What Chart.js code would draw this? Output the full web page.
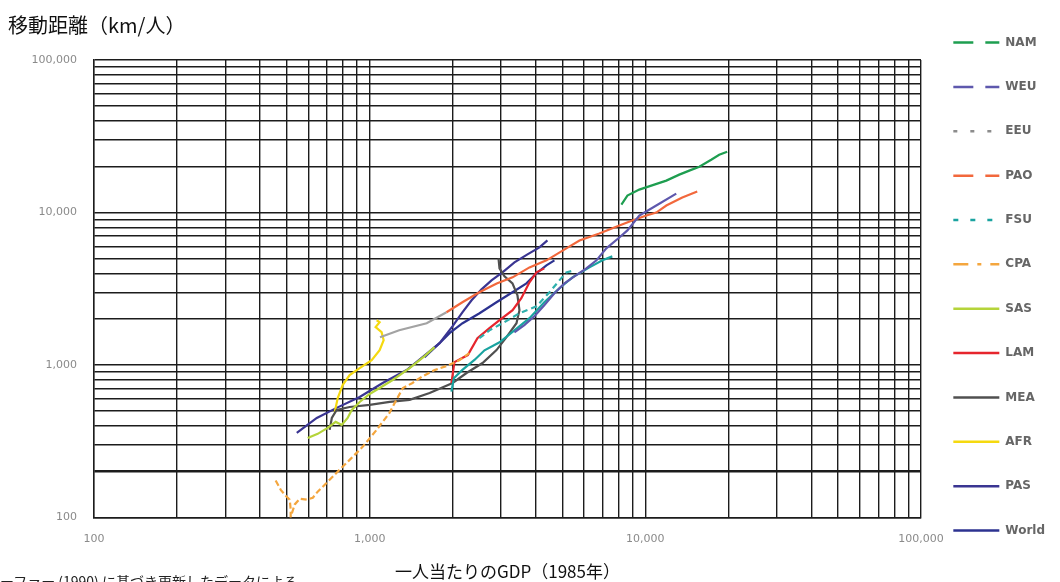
<!DOCTYPE html>
<html><head><meta charset="utf-8">
<script src="https://cdn.jsdelivr.net/npm/chart.js@4/dist/chart.umd.min.js"></script>
<style>
html,body{margin:0;padding:0;background:#fff;overflow:hidden;width:1060px;height:582px;}
#wrap{position:relative;width:1060px;height:582px;overflow:hidden;}
#note{position:absolute;left:-28px;top:573px;font-family:'Noto Sans CJK JP';font-size:14px;color:#222;white-space:nowrap;line-height:16px;}
</style></head><body>
<div id="wrap"><canvas id="c" width="1060" height="582"></canvas><div id="note">シェーファー (1990) に基づき更新したデータによる</div></div>
<script>
// ---- data (GDP per capita, 1985 US$ ; travel distance km/person) ----
const regions = ['NAM','WEU','EEU','PAO','FSU','CPA','SAS','LAM','MEA','AFR','PAS','World'];
const gridValues = [100,200,300,400,500,600,700,800,900,1000,2000,3000,4000,5000,6000,7000,8000,9000,10000,20000,30000,40000,50000,60000,70000,80000,90000,100000];
const labelValues = [100,1000,10000,100000];

const NAM_gdp  = [8190, 8610, 9510, 10780, 11920, 13280, 14440, 15700, 17340, 18540, 19820];
const NAM_dist = [11280, 12920, 14140, 15240, 16190, 17720, 18820, 19980, 22200, 23940, 25050];
const WEU_gdp  = [3350, 3640, 3960, 4300, 4680, 5090, 5530, 6110, 6650, 7220, 8050, 8610, 9510, 10960, 12950];
const WEU_dist = [1640, 1830, 2090, 2470, 2960, 3430, 3820, 4300, 4860, 5820, 6860, 7630, 9560, 11110, 13310];
const EEU_gdp  = [2500, 2720, 3080, 3500, 4030, 4490, 4880, 5170, 5530];
const EEU_dist = [1500, 1690, 1910, 2190, 2430, 3000, 3590, 4050, 4180];
const PAO_gdp  = [1090, 1280, 1610, 1900, 2170, 2500, 2890, 3300, 3800, 4380, 5170, 5770, 6810, 8050, 8970, 10090, 10960, 11920, 13620, 15430];
const PAO_dist = [1520, 1690, 1880, 2220, 2580, 3000, 3430, 3760, 4370, 4860, 5820, 6560, 7290, 8220, 8870, 9560, 10000, 11110, 12530, 13720];
const FSU_gdp  = [1980, 2020, 2170, 2400, 2610, 2960, 3350, 3800, 4300, 4880, 5440, 6270, 6990, 7590];
const FSU_dist = [670, 820, 930, 1080, 1250, 1410, 1690, 2030, 2580, 3190, 3760, 4370, 4860, 5160];
const CPA_gdp  = [456, 476, 496, 513, 517, 517, 535, 558, 591, 622, 648, 687, 759, 846, 943, 1060, 1180, 1250, 1320, 1430, 1560, 1720, 1900, 2120, 2300];
const CPA_dist = [175, 152, 139, 131, 113, 101, 122, 133, 131, 135, 148, 164, 197, 239, 291, 376, 486, 591, 707, 763, 847, 927, 985, 1078, 1198];
const SAS_gdp  = [596, 648, 704, 753, 792, 832, 861, 920, 1000, 1087, 1212, 1396, 1582, 1720];
const SAS_dist = [333, 354, 387, 424, 405, 450, 508, 573, 646, 707, 798, 956, 1145, 1311];
const LAM_gdp  = [1980, 2030, 2270, 2460, 2720, 2960, 3300, 3550, 3800, 4030, 4300];
const LAM_dist = [763, 1046, 1163, 1502, 1745, 1968, 2288, 2741, 3487, 4054, 4305];
const MEA_gdp  = [716, 729, 759, 846, 1000, 1182, 1396, 1650, 2000, 2246, 2567, 2885, 3136, 3409, 3495, 3437, 3297, 3084, 2958, 2934];
const MEA_dist = [376, 450, 508, 531, 548, 573, 591, 656, 763, 887, 1031, 1253, 1524, 1881, 2288, 2867, 3434, 3815, 4305, 5004];
const AFR_gdp  = [747, 766, 798, 846, 920, 1017, 1087, 1124, 1105, 1051, 1087, 1060];
const AFR_dist = [493, 608, 740, 860, 956, 1078, 1253, 1457, 1643, 1772, 1910, 1968];
const PAS_gdp  = [544, 643, 759, 920, 1115, 1362, 1556, 1793, 2000, 2173, 2343, 2546, 2767, 3033, 3352, 3737, 4130, 4415];
const PAS_dist = [359, 450, 524, 618, 763, 927, 1128, 1392, 1798, 2221, 2660, 3138, 3594, 4054, 4712, 5316, 5904, 6561];
const World_gdp  = [1582, 1793, 1949, 2173, 2504, 2885, 3297, 3705, 4028, 4378, 4680];
const World_dist = [1128, 1392, 1619, 1881, 2188, 2581, 3000, 3434, 3994, 4504, 4857];

const yTitle = '移動距離（km/人）';
const xTitle = '一人当たりのGDP（1985年）';

// ---- styles ----
const lineColor = {NAM:'#1e9e50', WEU:'#5e58ad', EEU:'#2fb0ad', PAO:'#f2683c', FSU:'#1aa3a0', CPA:'#f4a63e', SAS:'#b5d43a', LAM:'#e6252d', MEA:'#505050', AFR:'#f5d90f', PAS:'#3a3592', World:'#2c3290'};
const legendColor = Object.assign({}, lineColor, {EEU:'#8c8c8c'});
const legendDash = {NAM:[20,12], WEU:[20,12], EEU:[4,13], PAO:[20,12], FSU:[5,12], CPA:[15,9,4,9], SAS:[], LAM:[], MEA:[], AFR:[], PAS:[], World:[]};
const plotDash = {EEU:[6,4], CPA:[6,3]};

const seriesData = {
  NAM:[NAM_gdp,NAM_dist], WEU:[WEU_gdp,WEU_dist], EEU:[EEU_gdp,EEU_dist], PAO:[PAO_gdp,PAO_dist],
  FSU:[FSU_gdp,FSU_dist], CPA:[CPA_gdp,CPA_dist], SAS:[SAS_gdp,SAS_dist], LAM:[LAM_gdp,LAM_dist],
  MEA:[MEA_gdp,MEA_dist], AFR:[AFR_gdp,AFR_dist], PAS:[PAS_gdp,PAS_dist], World:[World_gdp,World_dist]
};

const datasets = regions.map(r => {
  const [g, d] = seriesData[r];
  const ds = {
    label: r,
    data: g.map((v, i) => ({x: v, y: d[i]})),
    borderColor: lineColor[r],
    borderWidth: 2.2,
    borderDash: plotDash[r] || [],
    pointRadius: 0,
    fill: false,
    tension: 0,
    showLine: true
  };
  if (r === 'PAO') {
    ds.segment = { borderColor: c => c.p1DataIndex <= 3 ? '#a3a3a3' : undefined };
  }
  return ds;
});

const tickFont = {family: 'DejaVu Sans', size: 11};
const gridColor = '#1c1c1c';

new Chart(document.getElementById('c'), {
  type: 'scatter',
  data: { datasets },
  options: {
    responsive: false,
    animation: false,
    layout: { padding: { left: 8, right: 5, top: 0, bottom: 0 } },
    plugins: {
      tooltip: { enabled: false },
      title: {
        display: true, text: yTitle, align: 'start',
        font: { family: 'Noto Sans CJK JP', size: 20, weight: 'normal' },
        color: '#111', padding: { top: 13, bottom: 23 }
      },
      legend: {
        position: 'right', align: 'start',
        title: { display: true, text: '', font: { size: 1 }, padding: { top: 3, bottom: 0 } },
        labels: {
          usePointStyle: true, pointStyleWidth: 46, padding: 32.36,
          font: { family: 'DejaVu Sans', size: 12, weight: 'bold' }, color: '#1a1a1a',
          generateLabels: chart => chart.data.datasets.map((ds, i) => ({
            text: ds.label, strokeStyle: legendColor[ds.label], fillStyle: legendColor[ds.label],
            lineWidth: 2.5, lineDash: legendDash[ds.label], pointStyle: 'line', datasetIndex: i, hidden: false
          }))
        }
      }
    },
    scales: {
      x: {
        type: 'logarithmic', min: 100, max: 100000,
        afterBuildTicks: s => { s.ticks = gridValues.map(v => ({ value: v })); },
        ticks: { autoSkip: false, maxRotation: 0, padding: 15.4, font: tickFont, color: '#8a8a8a',
          callback: v => labelValues.includes(v) ? v.toLocaleString('en-US') : '' },
        grid: { color: gridColor, lineWidth: 1.4, drawTicks: false },
        border: { color: gridColor, width: 1.4 },
        title: { display: true, text: xTitle, font: { family: 'Noto Sans CJK JP', size: 17 }, color: '#111', padding: { top: 0, bottom: 0 } }
      },
      y: {
        type: 'logarithmic', min: 100, max: 100000,
        afterBuildTicks: s => { s.ticks = gridValues.map(v => ({ value: v })); },
        afterFit: s => { s.width = 86; },
        ticks: { autoSkip: false, padding: 17, font: tickFont, color: '#8a8a8a',
          callback: v => labelValues.includes(v) ? v.toLocaleString('en-US') : '' },
        grid: { color: gridColor, lineWidth: c => (c.tick && c.tick.value === 200) ? 2.6 : 1.4, drawTicks: false },
        border: { color: gridColor, width: 1.4 }
      }
    }
  }
});
</script>
</body></html>
